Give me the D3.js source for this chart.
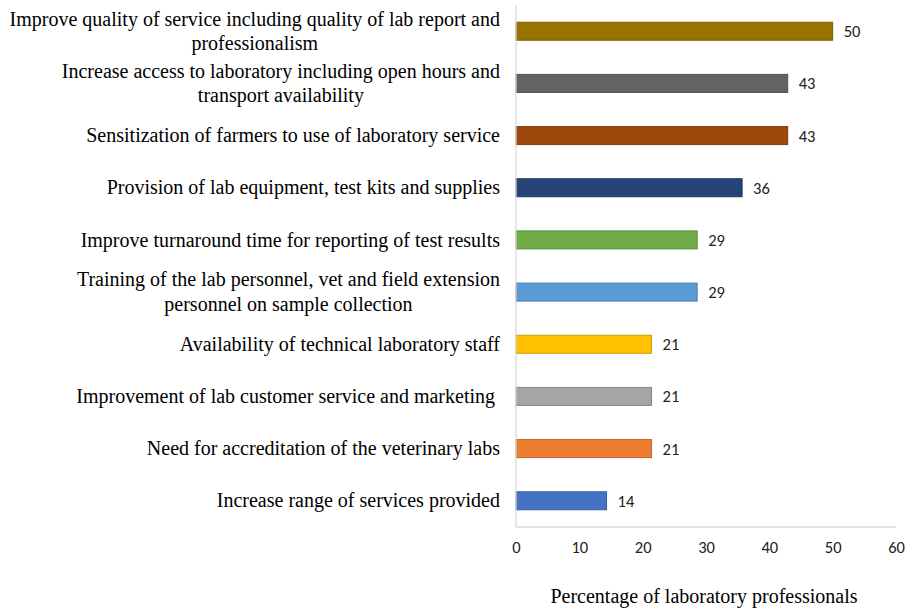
<!DOCTYPE html>
<html>
<head>
<meta charset="utf-8">
<script src="https://cdn.jsdelivr.net/npm/d3@7"></script>
<style>
  body { margin: 0; background: #fff; }
  svg { display: block; }
</style>
</head>
<body>
<svg id="chart" width="909" height="615"></svg>
<script>
// top to bottom, as in the figure
const categories = [
    ["Improve quality of service including quality of lab report and", "professionalism"],
    ["Increase access to laboratory including open hours and", "transport availability"],
    ["Sensitization of farmers to use of laboratory service"],
    ["Provision of lab equipment, test kits and supplies"],
    ["Improve turnaround time for reporting of test results"],
    ["Training of the lab personnel, vet and field extension", "personnel on sample collection"],
    ["Availability of technical laboratory staff"],
    ["Improvement of lab customer service and marketing "],
    ["Need for accreditation of the veterinary labs"],
    ["Increase range of services provided"]
];
const values = [50, 42.9, 42.9, 35.7, 28.6, 28.6, 21.4, 21.4, 21.4, 14.3];
const colors = ["#997300", "#636363", "#9e480e", "#264478", "#70ad47",
                "#5b9bd5", "#ffc000", "#a5a5a5", "#ed7d31", "#4472c4"];
const xTicks = [0, 10, 20, 30, 40, 50, 60];
const xTitle = "Percentage of laboratory professionals";

const serif = "'Liberation Serif', 'Times New Roman', serif";
const sans = "Carlito, 'Open Sans', 'Liberation Sans', sans-serif";

const plotLeft = 516, plotRight = 896, plotTop = 5, plotBottom = 527;

let svg = d3.select("#chart");

let x = d3.scaleLinear().domain([0, 60]).range([plotLeft, plotRight]);
let y = d3.scaleBand()
    .domain(d3.range(categories.length))
    .range([plotTop, plotBottom])
    .paddingInner(0.655)
    .paddingOuter(0.33);

// bars
svg.append("g")
    .selectAll("rect")
    .data(values)
    .join("rect")
    .attr("x", x(0))
    .attr("y", (d, i) => y(i))
    .attr("width", (d) => x(d) - x(0))
    .attr("height", y.bandwidth())
    .attr("fill", (d, i) => colors[i])
    .attr("stroke", (d, i) => d3.color(colors[i]).darker(0.6))
    .attr("stroke-width", 1);

// value labels
svg.append("g")
    .selectAll("text")
    .data(values)
    .join("text")
    .attr("x", (d) => x(d) + 11)
    .attr("y", (d, i) => y(i) + y.bandwidth() / 2)
    .attr("dy", "0.36em")
    .style("font-family", sans)
    .style("font-size", "16.5px")
    .attr("fill", "#222")
    .text((d) => d3.format(".0f")(d));

// axis lines
svg.append("line")
    .attr("x1", plotLeft).attr("x2", plotLeft)
    .attr("y1", plotTop).attr("y2", plotBottom)
    .attr("stroke", "#d9d9d9").attr("stroke-width", 1.3);
svg.append("line")
    .attr("x1", plotLeft).attr("x2", plotRight)
    .attr("y1", plotBottom).attr("y2", plotBottom)
    .attr("stroke", "#d9d9d9").attr("stroke-width", 1.3);

// x axis ticks
let xAxis = svg.append("g")
    .attr("transform", `translate(0,${plotBottom})`)
    .call(d3.axisBottom(x).tickValues(xTicks).tickSize(0).tickPadding(14));
xAxis.select(".domain").remove();
xAxis.selectAll("text")
    .style("font-family", sans)
    .style("font-size", "16.5px")
    .attr("fill", "#222");

// category labels
let labelRight = 500, lineH = 24.5;
let labels = svg.append("g")
    .selectAll("text")
    .data(categories)
    .join("text")
    .style("font-family", serif)
    .style("font-size", "20px")
    .attr("fill", "#000");

labels.each(function (lines, i) {
    let t = d3.select(this);
    let cy = y(i) + y.bandwidth() / 2;
    let y0 = cy - (lines.length - 1) * lineH / 2;
    let spans = t.selectAll("tspan")
        .data(lines)
        .join("tspan")
        .attr("y", (d, j) => y0 + j * lineH)
        .attr("dy", "0.33em")
        .text((d) => d);
    if (lines.length > 1) {
        let w = d3.max(spans.nodes(), (n) => n.getComputedTextLength());
        t.attr("text-anchor", "middle");
        spans.attr("x", labelRight - w / 2);
    } else {
        t.attr("text-anchor", "end").style("white-space", "pre");
        spans.attr("x", labelRight);
    }
});

// axis title
svg.append("text")
    .attr("x", (plotLeft + plotRight) / 2 - 2)
    .attr("y", 603)
    .attr("text-anchor", "middle")
    .style("font-family", serif)
    .style("font-size", "20px")
    .text(xTitle);
</script>
</body>
</html>
